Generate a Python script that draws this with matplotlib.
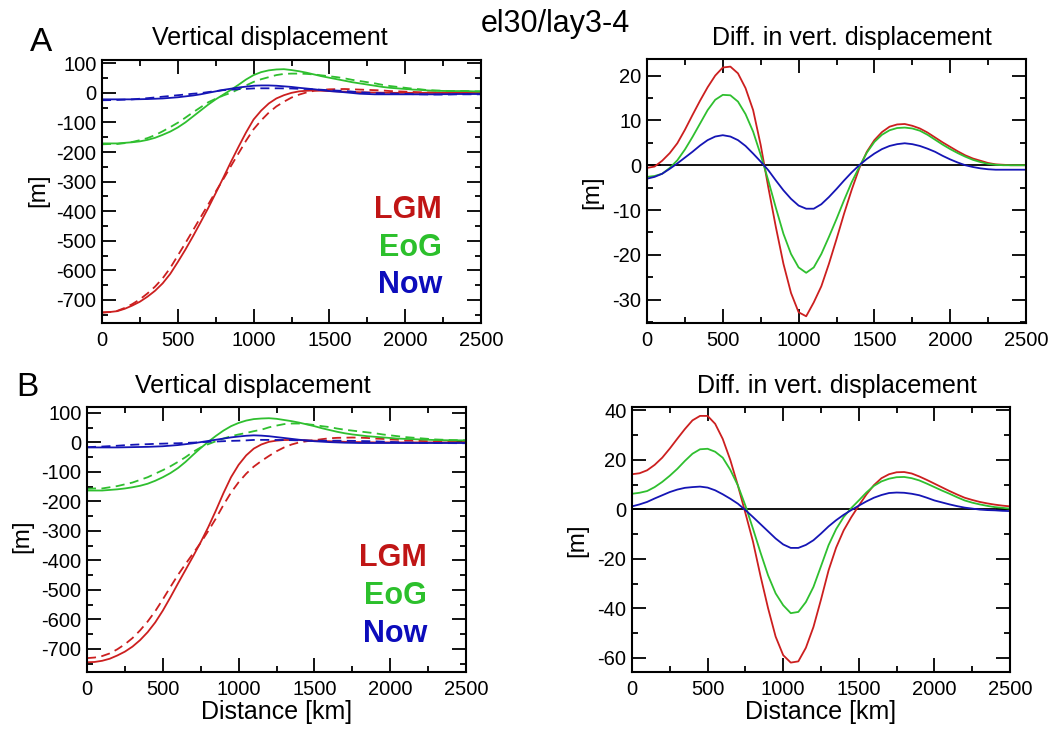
import matplotlib
matplotlib.use('Agg')
import matplotlib.pyplot as plt
from matplotlib.ticker import MultipleLocator

plt.rcParams['font.family'] = ['Liberation Sans', 'DejaVu Sans']
plt.rcParams['axes.unicode_minus'] = False

# distance along profile [km]
dist = [0, 50, 100, 150, 200, 250, 300, 350, 400, 450, 500, 550, 600, 650, 700, 750,
        800, 850, 900, 950, 1000, 1050, 1100, 1150, 1200, 1250, 1300, 1350, 1400, 1450,
        1500, 1550, 1600, 1650, 1700, 1750, 1800, 1850, 1900, 1950, 2000, 2050, 2100,
        2150, 2200, 2250, 2300, 2350, 2400, 2450, 2500]

# ---- row A : vertical displacement [m] (solid / dashed) ----
a_lgm = [-742, -741, -738, -730, -719, -706, -689, -669, -644, -612, -572, -530, -485, -438,
         -390, -339, -287, -234, -183, -134, -90, -60, -36, -19, -8, 0, 5, 7, 8, 7,
         6, 5, 4, 3, 2, 1.5, 1, 0.5, 0, 0, 0, 0, 0, 0, 0, 0, 0, 0, 0, 0, 0]
a_lgm_d = [-743, -741, -737, -727, -714, -698, -678, -655, -627, -592, -550, -508, -465, -421,
           -378, -334, -292, -248, -205, -162, -123, -93, -67, -46, -30, -16, -6, 1.5, 7, 10,
           12, 12.5, 13, 12, 11, 10, 9, 8, 6, 5, 4, 3, 2, 1.5, 1, 0.5, 0, 0, 0, 0, 0]
a_eog = [-171, -171, -171, -169, -167, -164, -159, -152, -142, -131, -117, -100, -80, -60,
         -40, -22, -6, 10, 27, 45, 60, 70, 76, 79, 80, 77, 73, 68, 62, 56,
         51, 46, 41, 36, 32, 28, 24, 20, 17, 15, 13, 11, 10, 8, 7, 6.5, 6, 6, 6, 5, 5]
a_eog_d = [-174, -173, -173, -170, -166, -160, -153, -143, -130, -116, -101, -84, -66, -49,
           -32, -20, -9, 0, 12, 25, 37, 46, 53, 60, 64, 65, 65, 64, 62, 59,
           56, 53, 49, 44, 40, 36, 32, 27, 23, 20, 17, 14, 12, 9, 8, 7, 6, 6, 6, 5, 5]
a_now = [-22, -22, -22, -22, -22, -21.5, -21, -20, -19, -17, -15, -12, -9, -5,
         0, 5, 10, 14, 18, 21, 24, 25, 25, 24, 22, 20, 17, 14.5, 12, 9,
         6, 4, 2, -0.5, -3, -4, -5, -5, -5, -5, -5, -5, -5, -5, -5, -4.5, -4.5, -4, -4, -4, -4]
a_now_d = [-25, -24.6, -24, -23, -22, -20, -18, -15.6, -13, -10.6, -8, -5.6, -3, -1,
           2.6, 5.8, 9, 10.6, 12.4, 13.5, 15, 15.3, 15.3, 15.3, 15, 14.7, 13.6, 13, 12, 10.4,
           8.6, 7.6, 6.3, 4.2, 1.9, 0.7, -0.7, -1.3, -2, -2.9, -3.7, -4.4, -5, -5.4, -5.7,
           -5.9, -5.5, -5, -5, -5, -5]

# row A : difference [m]
a_lgm_diff = [-0.6, -0.3, 1.0, 2.7, 4.9, 7.9, 11.2, 14.4, 17.4, 20.0, 21.8, 22.0, 20.5, 17.2,
              12.3, 4.5, -4.9, -13.8, -22.0, -28.5, -32.8, -33.7, -30.6, -27.0, -22.0, -16.5,
              -10.8, -5.5, -0.7, 3.0, 5.6, 7.4, 8.6, 9.1, 9.2, 8.8, 8.2, 7.3, 6.2, 5.1,
              4.1, 3.1, 2.2, 1.5, 1.0, 0.5, 0.2, 0.1, 0.0, 0.0, 0.0]
a_eog_diff = [-2.6, -2.4, -1.9, -0.6, 1.1, 3.5, 6.3, 9.3, 12.3, 14.6, 15.7, 15.6, 14.2, 11.4,
              7.5, 2.3, -3.4, -9.5, -15.3, -19.8, -22.8, -24.0, -22.8, -19.8, -16.0, -12.0,
              -7.8, -3.8, -0.4, 2.8, 5.2, 6.8, 7.8, 8.3, 8.4, 8.2, 7.7, 6.8, 5.7, 4.6,
              3.6, 2.7, 1.9, 1.2, 0.7, 0.3, 0.1, 0.0, 0.0, 0.0, 0.0]
a_now_diff = [-3.0, -2.6, -1.9, -0.8, 0.4, 1.7, 3.0, 4.4, 5.6, 6.4, 6.7, 6.4, 5.6, 4.3,
              2.6, 0.8, -1.1, -3.4, -5.6, -7.5, -9.0, -9.7, -9.7, -8.7, -7.1, -5.3,
              -3.4, -1.6, 0.0, 1.4, 2.6, 3.6, 4.3, 4.7, 4.9, 4.7, 4.3, 3.7, 3.0, 2.1,
              1.3, 0.6, 0.0, -0.4, -0.7, -0.9, -1.0, -1.0, -1.0, -1.0, -1.0]

# ---- row B : vertical displacement [m] (solid / dashed) ----
b_lgm = [-745, -744, -740, -733, -722, -709, -692, -670, -643, -610, -570, -525, -478, -432,
         -386, -338, -287, -231, -172, -118, -76, -44, -21, -7, 2, 6, 8, 8.5, 8, 7,
         6, 5, 4, 3, 2, 1.5, 1, 0.5, 0, 0, 0, 0, 0, 0, 0, 0, 0, 0, 0, 0, 0]
b_lgm_d = [-731, -729, -724, -715, -701, -684, -663, -637, -607, -572, -532, -490, -449, -412,
           -376, -340, -300, -258, -212, -170, -135, -106, -82, -63, -46, -30, -17, -7, 0, 4,
           7.5, 11, 14, 15.5, 16, 16.5, 16, 15, 13, 12, 10, 9, 7, 6, 5, 4, 3, 2.4, 2, 1.5, 1]
b_eog = [-163, -163, -163, -161, -159, -156, -152, -147, -140, -130, -118, -104, -87, -66,
         -42, -19, 2, 22, 40, 55, 66, 74, 79, 81, 82, 80, 76, 72, 67, 61,
         55, 48, 42, 36, 31, 27, 24, 21, 19, 17, 15, 13, 12, 11, 10, 9, 8, 7.5, 7, 7, 7]
b_eog_d = [-157, -156, -156, -152, -148, -142, -136, -127, -118, -106, -94, -81, -66, -50,
           -32, -17, -6, 4, 13, 21, 27, 32, 38, 43, 51, 57, 62, 64, 64, 62,
           59, 55, 52, 47, 43, 40, 37, 34, 31, 27, 24, 21, 18, 16, 14, 12, 10, 9, 8, 7.5, 7]
b_now = [-17, -17, -17, -17, -17, -16.5, -16, -15.5, -15, -14, -13, -11, -9, -6,
         -3, 1, 5, 9, 13, 17, 20, 22.5, 24, 23, 21, 18, 15, 12, 9, 6.5,
         4, 2.5, 1, 0, -1, -1.5, -2, -2, -2, -2, -2, -2, -2, -2, -2, -2, -2, -2, -2, -2, -2]
b_now_d = [-16, -15, -14, -12.6, -11.3, -9.5, -8, -6.8, -6, -4.8, -4.2, -3.3, -2.9, -1.7,
           -0.7, 0.7, 1.9, 3, 4.1, 5.2, 5.8, 6.9, 8.4, 8.6, 8.5, 8.2, 8.1, 7.6, 6.8, 6.2,
           5.5, 5.7, 5.7, 5.8, 5.6, 5.3, 4.7, 4.3, 3.7, 2.7, 1.6, 0.8, 0, -0.7, -1.3,
           -1.7, -2.1, -2.3, -2.4, -2.6, -2.7]

# row B : difference [m]
b_lgm_diff = [14.2, 14.6, 15.8, 18.0, 20.9, 24.6, 28.6, 32.5, 36.0, 37.8, 37.8, 34.6, 28.5, 20.0,
              9.7, -1.5, -13.0, -27.0, -40.0, -51.5, -59.0, -62.0, -61.5, -56.0, -47.6, -36.5,
              -24.7, -15.5, -8.5, -3.2, 1.5, 6.0, 9.8, 12.6, 14.2, 15.0, 15.1, 14.5, 13.3, 11.9,
              10.4, 8.9, 7.4, 6.0, 4.7, 3.8, 3.0, 2.4, 1.9, 1.5, 1.2]
b_eog_diff = [6.3, 6.7, 7.4, 9.0, 11.1, 13.6, 16.4, 19.6, 22.5, 24.3, 24.5, 23.3, 20.9, 16.0,
              9.7, 1.5, -7.8, -17.5, -26.7, -34.0, -38.8, -42.0, -41.5, -37.5, -31.4, -23.0,
              -14.5, -8.0, -3.1, 0.5, 3.6, 6.8, 9.5, 11.3, 12.4, 13.0, 13.1, 12.6, 11.7, 10.4,
              9.0, 7.6, 6.3, 4.9, 3.6, 2.7, 2.0, 1.4, 0.9, 0.6, 0.3]
b_now_diff = [1.2, 2.0, 3.0, 4.4, 5.7, 7.0, 8.0, 8.7, 9.0, 9.2, 8.8, 7.7, 6.1, 4.3,
              2.3, -0.3, -3.1, -6.0, -8.9, -11.8, -14.2, -15.6, -15.6, -14.4, -12.5, -9.8,
              -6.9, -4.4, -2.2, -0.3, 1.5, 3.2, 4.7, 5.8, 6.6, 6.8, 6.7, 6.3, 5.7, 4.7,
              3.6, 2.8, 2.0, 1.3, 0.7, 0.3, -0.1, -0.3, -0.4, -0.6, -0.7]

RED = '#cc1f1f'
GREEN = '#2fbf2f'
BLUE = '#1515b5'

fig = plt.figure(figsize=(10.53, 7.33), dpi=100)
W, H = 1053.0, 733.0


def px_axes(l, t, r, b):
    return fig.add_axes([l / W, 1 - b / H, (r - l) / W, (b - t) / H])


def style(ax, ymin, ymax, ymaj, ymin_step):
    ax.set_xlim(0, 2500)
    ax.set_ylim(ymin, ymax)
    ax.xaxis.set_major_locator(MultipleLocator(500))
    ax.xaxis.set_minor_locator(MultipleLocator(250))
    ax.yaxis.set_major_locator(MultipleLocator(ymaj))
    ax.yaxis.set_minor_locator(MultipleLocator(ymin_step))
    ax.tick_params(which='both', direction='in', top=True, right=True,
                   width=1.3, labelsize=14.5)
    ax.tick_params(which='major', length=10)
    ax.tick_params(which='minor', length=4.5)
    ax.tick_params(axis='x', pad=6)
    ax.tick_params(axis='y', pad=4)
    for s in ax.spines.values():
        s.set_linewidth(1.5)


def disp_panel(ax, lgm, lgm_d, eog, eog_d, now, now_d, ymax):
    ax.plot(dist, lgm, color=RED, lw=1.3)
    ax.plot(dist, lgm_d, color=RED, lw=1.3, ls=(0, (5, 3)))
    ax.plot(dist, eog, color=GREEN, lw=1.3)
    ax.plot(dist, eog_d, color=GREEN, lw=1.3, ls=(0, (5, 3)))
    ax.plot(dist, now, color=BLUE, lw=1.3)
    ax.plot(dist, now_d, color=BLUE, lw=1.3, ls=(0, (5, 3)))
    style(ax, -778, ymax, 100, 50)
    ax.text(0.897, 0.43, 'LGM', color='#c01515', fontsize=22, fontweight='bold',
            ha='right', va='center', transform=ax.transAxes)
    ax.text(0.897, 0.285, 'EoG', color='#2cc02c', fontsize=22, fontweight='bold',
            ha='right', va='center', transform=ax.transAxes)
    ax.text(0.897, 0.144, 'Now', color='#0c0cbb', fontsize=22, fontweight='bold',
            ha='right', va='center', transform=ax.transAxes)


def diff_panel(ax, lgm, eog, now, ymin, ymax, ymaj, ymin_step):
    ax.axhline(0, color='black', lw=1.3)
    ax.plot(dist, lgm, color=RED, lw=1.3)
    ax.plot(dist, eog, color=GREEN, lw=1.3)
    ax.plot(dist, now, color=BLUE, lw=1.3)
    style(ax, ymin, ymax, ymaj, ymin_step)


ax1 = px_axes(102, 60, 481, 323)
disp_panel(ax1, a_lgm, a_lgm_d, a_eog, a_eog_d, a_now, a_now_d, 111)
ax2 = px_axes(647, 59, 1026, 323)
diff_panel(ax2, a_lgm_diff, a_eog_diff, a_now_diff, -35.2, 23.7, 10, 5)
ax3 = px_axes(87, 407, 466, 672)
disp_panel(ax3, b_lgm, b_lgm_d, b_eog, b_eog_d, b_now, b_now_d, 120)
ax4 = px_axes(632, 407, 1010, 672)
diff_panel(ax4, b_lgm_diff, b_eog_diff, b_now_diff, -65.8, 41.4, 20, 10)


def ftext(x, y, s, **kw):
    fig.text(x / W, 1 - y / H, s, **kw)


ftext(555, 32, 'el30/lay3-4', fontsize=22, ha='center', va='baseline')
ftext(41, 51, 'A', fontsize=24, ha='center', va='baseline')
ftext(27, 396, 'B', fontsize=24, ha='center', va='baseline')
ftext(270, 45, 'Vertical displacement', fontsize=18, ha='center', va='baseline')
ftext(852, 45, 'Diff. in vert. displacement', fontsize=18, ha='center', va='baseline')
ftext(253, 393, 'Vertical displacement', fontsize=18, ha='center', va='baseline')
ftext(837, 393, 'Diff. in vert. displacement', fontsize=18, ha='center', va='baseline')
ftext(38, 190, '[m]', fontsize=17.5, rotation=90, ha='center', va='center')
ftext(592, 192, '[m]', fontsize=17.5, rotation=90, ha='center', va='center')
ftext(22, 536, '[m]', fontsize=17.5, rotation=90, ha='center', va='center')
ftext(577, 540, '[m]', fontsize=17.5, rotation=90, ha='center', va='center')
ftext(277, 719, 'Distance [km]', fontsize=18, ha='center', va='baseline')
ftext(821, 719, 'Distance [km]', fontsize=18, ha='center', va='baseline')

fig.savefig('out.png', dpi=100)
